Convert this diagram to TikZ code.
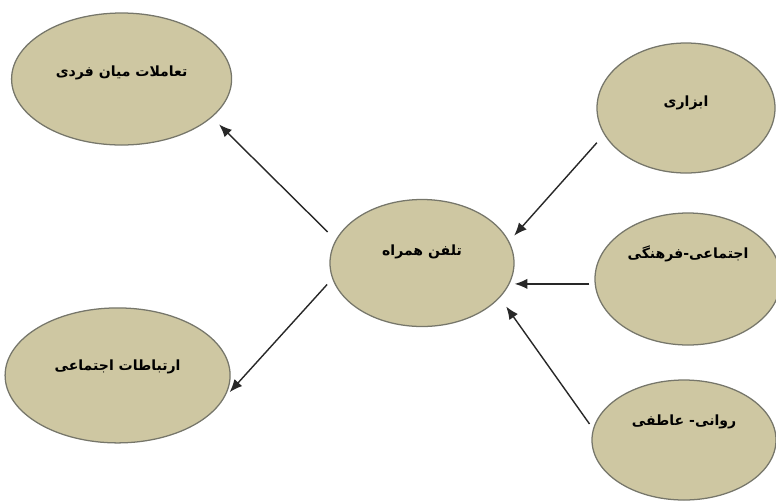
\documentclass[tikz,border=0pt]{standalone}
\usepackage{fontspec}
\usepackage{tikz}
\usetikzlibrary{shapes.geometric,arrows.meta}
\TeXXeTstate=1
\newfontfamily\arabicfont[Script=Arabic]{DejaVu Sans}
\definecolor{khaki}{RGB}{206,199,162}
\definecolor{rim}{RGB}{118,118,106}
\definecolor{arrowgray}{RGB}{40,40,40}

\begin{document}
\begin{tikzpicture}[
	ell/.style={draw=rim, line width=0.9pt, fill=khaki, ellipse, font=\arabicfont\bfseries},
	arr/.style={draw=arrowgray, line width=1pt, -{Latex[length=3.2mm,width=2.6mm]}}]
	\useasboundingbox (0,0) rectangle (19.4,-12.575);
	
	\node[ell, minimum width=4.6cm, minimum height=3.175cm, text depth=0.65cm](MOB) at (10.55,-6.575){\beginR تلفن همراه\endR};
	
	\node[ell, left of=MOB, node distance=7.51cm, yshift=4.6cm, minimum width=5.5cm, minimum height=3.3cm, text depth=0.4cm](OUT1){\beginR تعاملات میان فردی\endR};
	\node[ell, left of=MOB, node distance=7.61cm, yshift=-2.81cm, minimum width=5.625cm, minimum height=3.375cm, text depth=0.5cm](OUT2){\beginR ارتباطات اجتماعی\endR};
	
	\node[ell, right of=MOB, node distance=6.6cm, yshift=3.875cm, minimum width=4.45cm, minimum height=3.25cm, text depth=0.35cm](IN1){\beginR ابزاری\endR};
	\node[ell, right of=MOB, node distance=6.65cm, yshift=-0.4cm, minimum width=4.65cm, minimum height=3.3cm, text depth=1.35cm](IN2){\beginR اجتماعی-فرهنگی\endR};
	\node[ell, right of=MOB, node distance=6.55cm, yshift=-4.425cm, minimum width=4.6cm, minimum height=3cm, text depth=1cm](IN3){\beginR روانی- عاطفی\endR};
	
	\draw[arr, shorten <=0.28cm, shorten >=0.25cm] (MOB.165) -- (OUT1.-23.6);
	\draw[arr, shorten <=0.19cm, shorten >=0.2cm] (MOB.190) -- (OUT2.-12);
	
	\draw[arr, shorten <=0.27cm, shorten >=0.19cm] (IN1.198.6) -- (MOB.14.7);
	\draw[arr, shorten <=0.13cm] (IN2.183) -- (IN2.183 -| MOB.east);
	\draw[arr, shorten <=0.15cm, shorten >=0.27cm] (IN3.173.5) -- (MOB.-24.7);
\end{tikzpicture}
\end{document}
